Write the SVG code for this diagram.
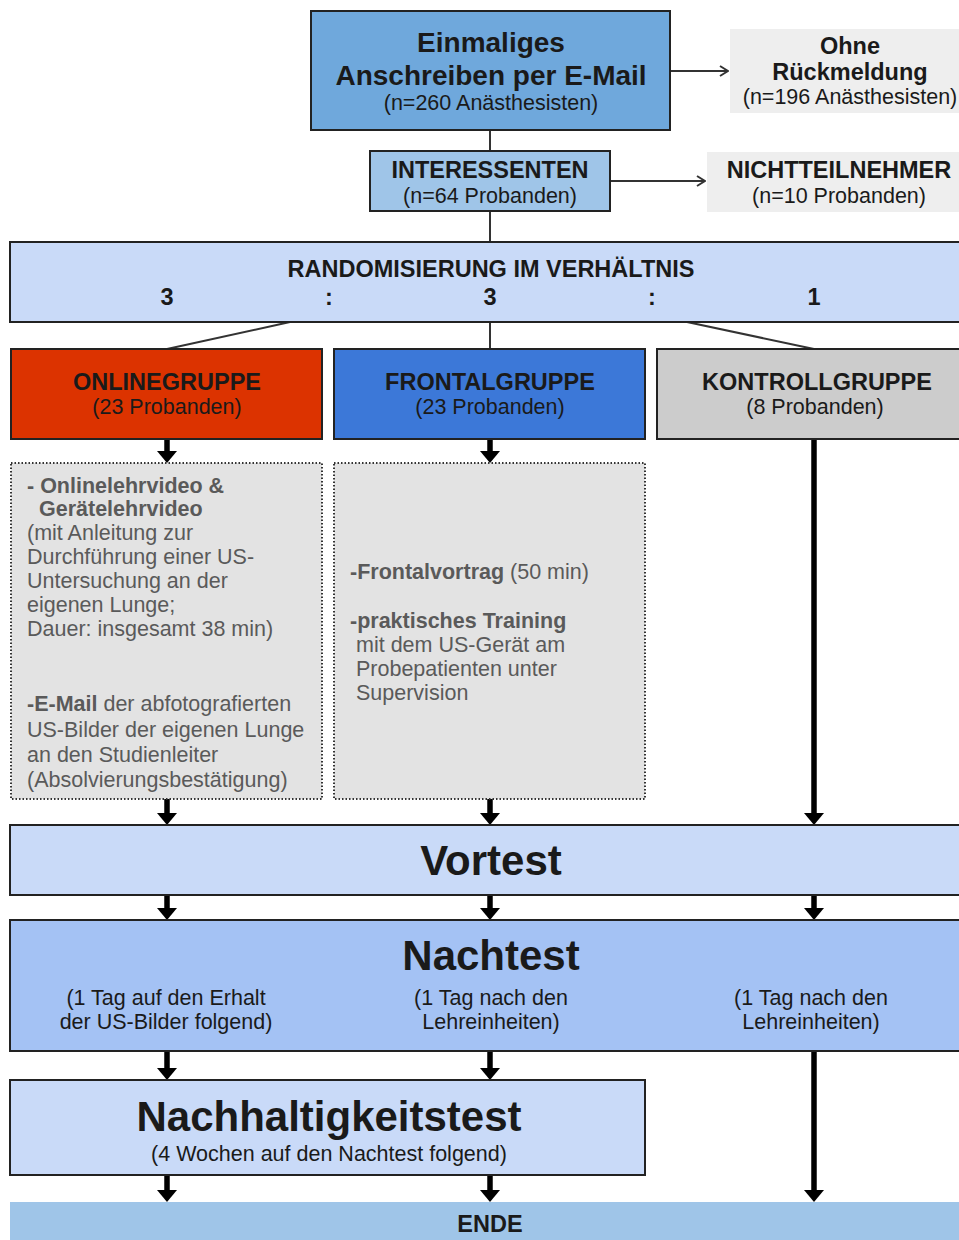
<svg xmlns="http://www.w3.org/2000/svg" width="959" height="1240" viewBox="0 0 959 1240">
<defs>
<style>
text{font-family:"Liberation Sans",Arial,sans-serif;fill:#1a1a1a}
.b{font-weight:bold}
.box{stroke:#222;stroke-width:2}
.c{text-anchor:middle}
.r{font-size:21.5px}
.h{font-size:23.5px;font-weight:bold}
.big{font-size:42px;font-weight:bold}
.dot{fill:#e3e3e3;stroke:#333;stroke-width:2;stroke-dasharray:1.5 2}
.g{fill:#5a5a5a;font-size:21.5px}
.thin{stroke:#333;stroke-width:2;fill:none}
.thick{stroke:#000;stroke-width:5.5;fill:none}
.head{fill:#000}
</style>
<marker id="open" viewBox="0 0 10 12" refX="9" refY="6" markerWidth="10" markerHeight="12" markerUnits="userSpaceOnUse" orient="auto">
<path d="M1,1 L9,6 L1,11" fill="none" stroke="#333" stroke-width="2"/>
</marker>
<path id="ah" d="M-10,-12 L10,-12 L0,0 Z"/>
</defs>

<g id="connectors">
<line class="thin" x1="670" y1="71" x2="728" y2="71" marker-end="url(#open)"/>
<line class="thin" x1="610" y1="181" x2="705" y2="181" marker-end="url(#open)"/>
<line class="thin" x1="490" y1="130" x2="490" y2="151"/>
<line class="thin" x1="490" y1="211" x2="490" y2="242"/>
<line class="thin" x1="290" y1="322" x2="167" y2="349"/>
<line class="thin" x1="490" y1="322" x2="490" y2="349"/>
<line class="thin" x1="687" y1="322" x2="814" y2="349"/>
<line class="thick" x1="167" y1="439" x2="167" y2="452"/><use href="#ah" class="head" x="167" y="463"/>
<line class="thick" x1="490" y1="439" x2="490" y2="452"/><use href="#ah" class="head" x="490" y="463"/>
<line class="thick" x1="814" y1="439" x2="814" y2="814"/><use href="#ah" class="head" x="814" y="825"/>
<line class="thick" x1="167" y1="799" x2="167" y2="814"/><use href="#ah" class="head" x="167" y="825"/>
<line class="thick" x1="490" y1="799" x2="490" y2="814"/><use href="#ah" class="head" x="490" y="825"/>
<line class="thick" x1="167" y1="895" x2="167" y2="909"/><use href="#ah" class="head" x="167" y="920"/>
<line class="thick" x1="490" y1="895" x2="490" y2="909"/><use href="#ah" class="head" x="490" y="920"/>
<line class="thick" x1="814" y1="895" x2="814" y2="909"/><use href="#ah" class="head" x="814" y="920"/>
<line class="thick" x1="167" y1="1051" x2="167" y2="1069"/><use href="#ah" class="head" x="167" y="1080"/>
<line class="thick" x1="490" y1="1051" x2="490" y2="1069"/><use href="#ah" class="head" x="490" y="1080"/>
<line class="thick" x1="814" y1="1051" x2="814" y2="1191"/><use href="#ah" class="head" x="814" y="1202"/>
<line class="thick" x1="167" y1="1175" x2="167" y2="1191"/><use href="#ah" class="head" x="167" y="1202"/>
<line class="thick" x1="490" y1="1175" x2="490" y2="1191"/><use href="#ah" class="head" x="490" y="1202"/>
</g>

<g id="anschreiben">
<rect class="box" x="311" y="11" width="359" height="119" fill="#6fa8dc"/>
<text class="c b" x="491" y="52" font-size="28">Einmaliges</text>
<text class="c b" x="491" y="85" font-size="28">Anschreiben per E-Mail</text>
<text class="c r" x="491" y="110">(n=260 Anästhesisten)</text>
</g>

<g id="ohne">
<rect x="730" y="29" width="235" height="84" fill="#eeeeee"/>
<text class="c h" x="850" y="54">Ohne</text>
<text class="c h" x="850" y="80">Rückmeldung</text>
<text class="c r" x="850" y="104">(n=196 Anästhesisten)</text>
</g>

<g id="interessenten">
<rect class="box" x="370" y="151" width="240" height="60" fill="#9fc5e8"/>
<text class="c h" x="490" y="178">INTERESSENTEN</text>
<text class="c r" x="490" y="203">(n=64 Probanden)</text>
</g>

<g id="nichtteilnehmer">
<rect x="707" y="152" width="258" height="60" fill="#eeeeee"/>
<text class="c h" x="839" y="178">NICHTTEILNEHMER</text>
<text class="c r" x="839" y="203">(n=10 Probanden)</text>
</g>

<g id="randomisierung">
<rect class="box" x="10" y="242" width="960" height="80" fill="#c9daf8"/>
<text class="c h" x="491" y="277">RANDOMISIERUNG IM VERHÄLTNIS</text>
<text class="c h" x="167" y="305">3</text>
<text class="c h" x="329" y="305">:</text>
<text class="c h" x="490" y="305">3</text>
<text class="c h" x="652" y="305">:</text>
<text class="c h" x="814" y="305">1</text>
</g>

<g id="onlinegruppe">
<rect class="box" x="11" y="349" width="311" height="90" fill="#dc3300"/>
<text class="c h" x="167" y="390">ONLINEGRUPPE</text>
<text class="c r" x="167" y="414">(23 Probanden)</text>
</g>

<g id="frontalgruppe">
<rect class="box" x="334" y="349" width="311" height="90" fill="#3c78d8"/>
<text class="c h" x="490" y="390">FRONTALGRUPPE</text>
<text class="c r" x="490" y="414">(23 Probanden)</text>
</g>

<g id="kontrollgruppe">
<rect class="box" x="657" y="349" width="320" height="90" fill="#cccccc"/>
<text class="c h" x="817" y="390">KONTROLLGRUPPE</text>
<text class="c r" x="815" y="414">(8 Probanden)</text>
</g>

<g id="online-inhalt">
<rect class="dot" x="11" y="463" width="311" height="336"/>
<text class="g b" x="27" y="493">- Onlinelehrvideo &amp;</text>
<text class="g b" x="39" y="516">Gerätelehrvideo</text>
<text class="g" x="27" y="540">(mit Anleitung zur</text>
<text class="g" x="27" y="564">Durchführung einer US-</text>
<text class="g" x="27" y="588">Untersuchung an der</text>
<text class="g" x="27" y="612">eigenen Lunge;</text>
<text class="g" x="27" y="636">Dauer: insgesamt 38 min)</text>
<text class="g" x="27" y="711"><tspan class="b">-E-Mail</tspan> der abfotografierten</text>
<text class="g" x="27" y="737">US-Bilder der eigenen Lunge</text>
<text class="g" x="27" y="762">an den Studienleiter</text>
<text class="g" x="27" y="787">(Absolvierungsbestätigung)</text>
</g>

<g id="frontal-inhalt">
<rect class="dot" x="334" y="463" width="311" height="336"/>
<text class="g" x="350" y="579"><tspan class="b">-Frontalvortrag</tspan> (50 min)</text>
<text class="g b" x="350" y="628">-praktisches Training</text>
<text class="g" x="356" y="652">mit dem US-Gerät am</text>
<text class="g" x="356" y="676">Probepatienten unter</text>
<text class="g" x="356" y="700">Supervision</text>
</g>

<g id="vortest">
<rect class="box" x="10" y="825" width="960" height="70" fill="#c9daf8"/>
<text class="c big" x="491" y="875">Vortest</text>
</g>

<g id="nachtest">
<rect class="box" x="10" y="920" width="960" height="131" fill="#a4c2f4"/>
<text class="c big" x="491" y="970">Nachtest</text>
<text class="c r" x="166" y="1005">(1 Tag auf den Erhalt</text>
<text class="c r" x="166" y="1029">der US-Bilder folgend)</text>
<text class="c r" x="491" y="1005">(1 Tag nach den</text>
<text class="c r" x="491" y="1029">Lehreinheiten)</text>
<text class="c r" x="811" y="1005">(1 Tag nach den</text>
<text class="c r" x="811" y="1029">Lehreinheiten)</text>
</g>

<g id="nachhaltigkeitstest">
<rect class="box" x="10" y="1080" width="635" height="95" fill="#c9daf8"/>
<text class="c big" x="329" y="1131">Nachhaltigkeitstest</text>
<text class="c r" x="329" y="1161">(4 Wochen auf den Nachtest folgend)</text>
</g>

<g id="ende">
<rect x="10" y="1202" width="960" height="40" fill="#9fc5e8"/>
<text class="c h" x="490" y="1232">ENDE</text>
</g>
</svg>
